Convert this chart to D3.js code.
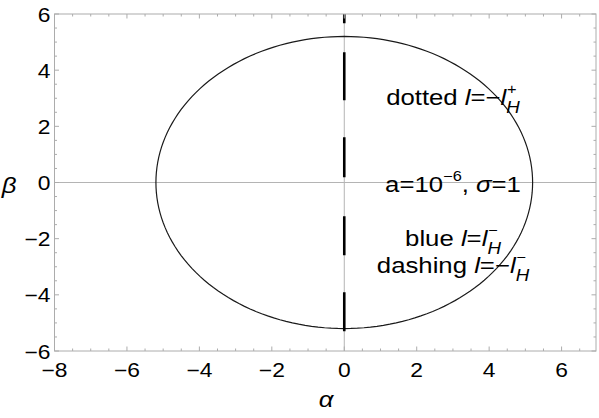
<!DOCTYPE html>
<html><head><meta charset="utf-8">
<script src="https://cdn.jsdelivr.net/npm/d3@7"></script>
<style>body{margin:0;background:#fff}svg{display:block}text{font-family:"Liberation Sans",Arial,sans-serif;fill:#000}</style>
</head><body><svg id="c" width="599" height="418"></svg>
<script>
const xDomain = [-8, 6.95];
const yDomain = [-6, 6];
const xTickLabels = [-8, -6, -4, -2, 0, 2, 4, 6];
const yTickLabels = [-6, -4, -2, 0, 2, 4, 6];
const circleRadius = [5.2];
const dashLine = [{a: 0, b: -5.3}, {a: 0, b: 6.5}];
const annotations = [
  {b: 2.77, parts: [["dotted ", ""], ["l", "i"], ["=−", ""], ["l", "i"], ["+", "sup"], ["H", "sub"]]},
  {b: -0.33, parts: [["a=10", ""], ["−6", "sup2"], [", ", ""], ["σ", "i"], ["=1", ""]]},
  {b: -2.26, parts: [["blue ", ""], ["l", "i"], ["=", ""], ["l", "i"], ["−", "sup"], ["H", "sub"]]},
  {b: -3.23, parts: [["dashing ", ""], ["l", "i"], ["=−", ""], ["l", "i"], ["−", "sup"], ["H", "sub"]]}
];

const SX = 1.17; // horizontal stretch of the reference's lettering
const svg = d3.select("#c");
const L = 54.5, R = 596, T = 14, B = 351;
const x = d3.scaleLinear().domain(xDomain).range([L, R]);
const y = d3.scaleLinear().domain(yDomain).range([B, T]);
const frameCol = "#acacac";

svg.append("defs").append("clipPath").attr("id", "clip")
  .append("rect").attr("x", L).attr("y", T).attr("width", R - L).attr("height", B - T);

svg.append("line").attr("x1", x(0)).attr("x2", x(0)).attr("y1", T).attr("y2", B)
  .attr("stroke", "#b4b4b4").attr("stroke-width", 1);
svg.append("line").attr("x1", L).attr("x2", R).attr("y1", y(0)).attr("y2", y(0))
  .attr("stroke", "#b4b4b4").attr("stroke-width", 1);

const g = svg.append("g").attr("clip-path", "url(#clip)");
const thetas = d3.range(0, 361, 2).map(d => d * Math.PI / 180);
const r = circleRadius[0];
g.append("path")
  .datum(thetas)
  .attr("d", d3.line().x(t => x(r * Math.cos(t))).y(t => y(r * Math.sin(t))))
  .attr("fill", "none").attr("stroke", "#1a1a1a").attr("stroke-width", 1.2);
g.append("path").datum(dashLine)
  .attr("d", d3.line().x(d => x(d.a)).y(d => y(d.b)))
  .attr("fill", "none").attr("stroke", "#000").attr("stroke-width", 2.6)
  .attr("stroke-dasharray", "39,37,39,39,40,37,48,29,40,40");

const tk = svg.append("g").attr("stroke", frameCol).attr("stroke-width", 1);
d3.range(-8, 7.0001, 0.5).forEach(v => {
  const major = Math.abs(v % 2) < 1e-9;
  const len = major ? 4.5 : 2.5;
  const px = x(v);
  if (px < L - 0.1 || px > R + 0.1) return;
  tk.append("line").attr("x1", px).attr("x2", px).attr("y1", B).attr("y2", B - len);
  tk.append("line").attr("x1", px).attr("x2", px).attr("y1", T).attr("y2", T + len);
});
d3.range(-6, 6.0001, 0.5).forEach(v => {
  const major = Math.abs(v % 2) < 1e-9;
  const len = major ? 4.5 : 2.5;
  const py = y(v);
  tk.append("line").attr("x1", L).attr("x2", L + len).attr("y1", py).attr("y2", py);
  tk.append("line").attr("x1", R).attr("x2", R - len).attr("y1", py).attr("y2", py);
});
svg.append("rect").attr("x", L).attr("y", T).attr("width", R - L).attr("height", B - T)
  .attr("fill", "none").attr("stroke", frameCol).attr("stroke-width", 1);

const fmt = v => (v < 0 ? "−" : "") + Math.abs(v);
const place = (px, py) => `translate(${px},${py}) scale(${SX},1)`;
svg.append("g").selectAll("text").data(xTickLabels).join("text")
  .attr("transform", d => place(x(d), 377)).attr("text-anchor", "middle")
  .attr("font-size", 19.5).text(fmt);
svg.append("g").selectAll("text").data(yTickLabels).join("text")
  .attr("transform", d => place(L - 4, y(d) + 7.5)).attr("text-anchor", "end")
  .attr("font-size", 19.5).text(fmt);

svg.append("text").attr("transform", place(326, 407)).attr("text-anchor", "middle")
  .attr("font-size", 22).attr("font-style", "italic").text("α");
svg.append("text").attr("transform", place(9, 193)).attr("text-anchor", "middle")
  .attr("font-size", 22).attr("font-style", "italic").text("β");

annotations.forEach(a => {
  const t = svg.append("text").attr("transform", place(453, y(a.b))).attr("text-anchor", "middle")
    .attr("font-size", 22);
  let off = 0, lastSupW = 0;
  a.parts.forEach(([s, k]) => {
    const sp = t.append("tspan").text(s);
    let target = 0;
    if (k === "i") sp.attr("font-style", "italic");
    if (k === "sup" || k === "sup2") {
      sp.attr("font-size", 14); target = -11;
      if (k === "sup") sp.attr("dx", 0.5);
    }
    if (k === "sub") {
      sp.attr("font-size", 16).attr("font-style", "italic"); target = 8;
      sp.attr("dx", -(lastSupW + 0.5));
    }
    if (target - off !== 0) sp.attr("dy", target - off);
    off = target;
    if (k === "sup") lastSupW = sp.node().getComputedTextLength();
  });
});
</script></body></html>
